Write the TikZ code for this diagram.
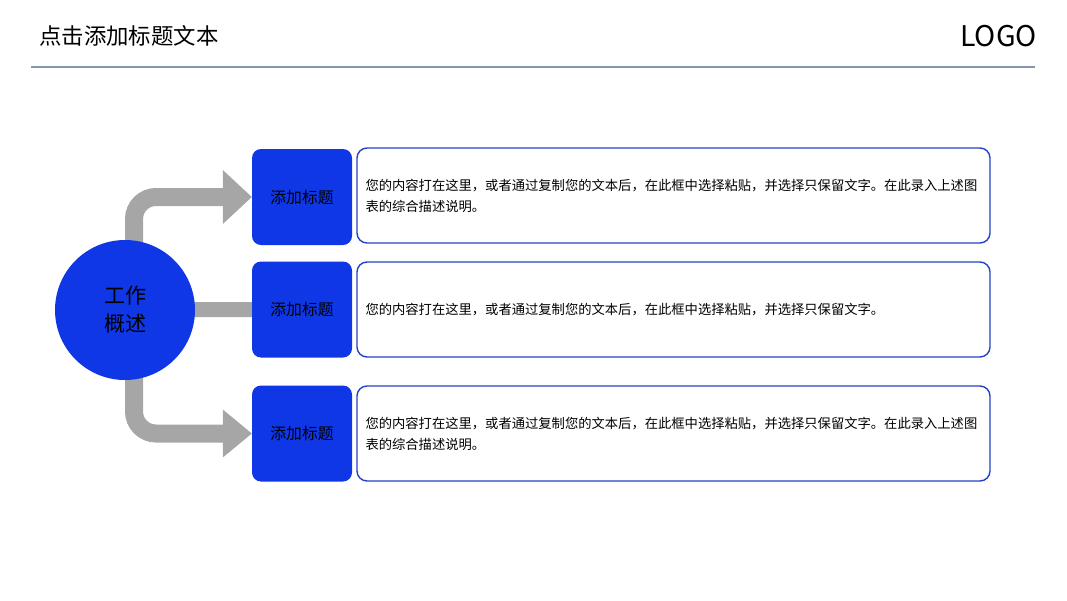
\documentclass[tikz,border=0pt]{standalone}
\usepackage{fontspec}
\setmainfont{Noto Sans CJK SC}
\usetikzlibrary{calc}
\definecolor{mainblue}{HTML}{0F37E6}
\definecolor{edgeblue}{HTML}{2443C4}
\definecolor{conngray}{HTML}{A6A6A6}
\definecolor{rulecol}{HTML}{8497B0}
\tikzset{
  circ/.style={circle, fill=mainblue, minimum size=140pt, inner sep=0pt, align=center,
    font=\fontsize{21pt}{28pt}\selectfont, text=black},
  tbox/.style={rectangle, rounded corners=9pt, fill=mainblue, minimum width=100pt,
    minimum height=96pt, inner sep=0pt, font=\fontsize{15.8pt}{18pt}\selectfont, text=black},
  dbox/.style={rectangle, rounded corners=10pt, draw=edgeblue, line width=1.4pt, fill=white,
    minimum width=633pt, minimum height=95pt, inner sep=0pt},
  dtext/.style={anchor=west, align=left, inner sep=0pt, font=\fontsize{13.3pt}{21pt}\selectfont},
  conn/.style={draw=conngray, line width=18pt},
  head/.style={fill=conngray},
}
\begin{document}
\begin{tikzpicture}[x=1pt,y=-1pt]
\useasboundingbox (0,0) rectangle (1067,600);
% header
\node[anchor=west, inner sep=0pt, font=\fontsize{22.4pt}{26pt}\selectfont] (title) at (39,36) {点击添加标题文本};
\node[anchor=east, inner sep=0pt, font=\fontsize{28.5pt}{32pt}\selectfont] (logo) at (1037,36) {LOGO};
\coordinate (r1) at (31,67);
\coordinate (r2) at (1035,67);
\draw[rulecol, line width=1.2pt] (r1) -- (r2);
% boxes positions
\coordinate (cc) at (125,310);
\coordinate (p1) at (302,197);
\coordinate (p2) at (302,309.5);
\coordinate (p3) at (302,433.5);
% connectors (behind)
\node[tbox, fill=none] (t1) at (p1) {};
\node[tbox, fill=none] (t2) at (p2) {};
\node[tbox, fill=none] (t3) at (p3) {};
\node[circ, fill=none] (c) at (cc) {};
\coordinate (s1) at ($(c.center)+(9,-40)$);
\coordinate (s3) at ($(c.center)+(9,40)$);
\coordinate (h1) at ($(t1.west)+(-29,0)$);
\coordinate (h3) at ($(t3.west)+(-29,0)$);
\draw[conn, rounded corners=22pt] (s1) |- ($(h1)+(1,0)$);
\draw[conn, rounded corners=22pt] (s3) |- ($(h3)+(1,0)$);
\fill[head] (t1.west) -- ($(h1)+(0,-27)$) -- ($(h1)+(0,27)$) -- cycle;
\fill[head] (t3.west) -- ($(h3)+(0,-24)$) -- ($(h3)+(0,24)$) -- cycle;
\draw[conn, line width=15pt] (c.center) -- (t2.west);
% main shapes
\node[circ] (circ) at (cc) {工作\\概述};
\node[tbox] (b1) at (p1) {添加标题};
\node[tbox] (b2) at (p2) {添加标题};
\node[tbox] (b3) at (p3) {添加标题};
\node[dbox] (w1) at (673.5,195.5) {};
\node[dbox] (w2) at (673.5,309.5) {};
\node[dbox] (w3) at (673.5,433.5) {};
\node[dtext] (x1) at ($(w1.west)+(9,0)$) {您的内容打在这里，或者通过复制您的文本后，在此框中选择粘贴，并选择只保留文字。在此录入上述图\\表的综合描述说明。};
\node[dtext] (x2) at ($(w2.west)+(9,0)$) {您的内容打在这里，或者通过复制您的文本后，在此框中选择粘贴，并选择只保留文字。};
\node[dtext] (x3) at ($(w3.west)+(9,0)$) {您的内容打在这里，或者通过复制您的文本后，在此框中选择粘贴，并选择只保留文字。在此录入上述图\\表的综合描述说明。};
\end{tikzpicture}
\end{document}
